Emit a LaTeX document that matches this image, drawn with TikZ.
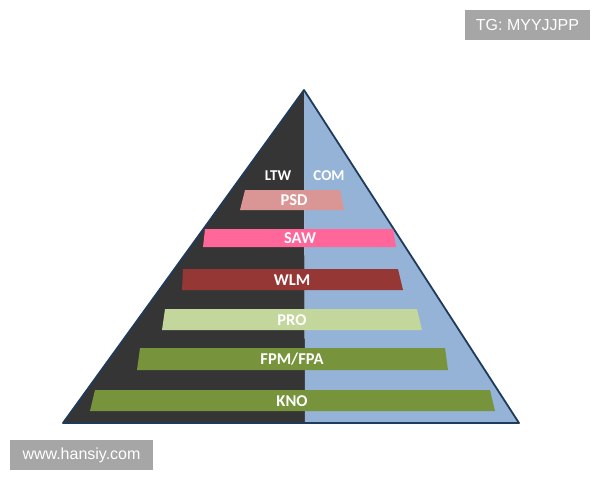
\documentclass[tikz,border=0pt]{standalone}
\usepackage{fontspec}
\setmainfont{Liberation Sans}
\newfontfamily\barfont{Carlito}
\definecolor{darkside}{HTML}{353535}
\definecolor{lightside}{HTML}{95B3D7}
\definecolor{edgecol}{HTML}{1F3A5A}
\definecolor{psdcol}{HTML}{DA9694}
\definecolor{sawcol}{HTML}{FF6699}
\definecolor{wlmcol}{HTML}{953735}
\definecolor{procol}{HTML}{C3D69B}
\definecolor{fpmcol}{HTML}{77933C}
\definecolor{wmgray}{HTML}{A6A6A6}
\tikzset{
  bartext/.style={text=white, font=\barfont\bfseries\fontsize{16.5}{17}\selectfont, inner sep=0pt},
  sidetext/.style={font=\barfont\bfseries\fontsize{15}{15}\selectfont, inner sep=0pt},
  wmbox/.style={fill=wmgray, text=white, font=\fontsize{16}{16}\selectfont, inner sep=0pt, anchor=center}
}
\begin{document}
\begin{tikzpicture}[x=1pt,y=-1pt]
\useasboundingbox (0,0) rectangle (600,480);
\fill[white] (0,0) rectangle (600,480);
% pyramid halves
\fill[darkside] (304,90) -- (63,423) -- (305,423) -- cycle;
\fill[lightside] (304,90) -- (305,423) -- (519,423) -- cycle;
\draw[edgecol, line width=1.8pt, line join=round] (304,90) -- (63,423) -- (519,423) -- cycle;
% bars
\fill[psdcol] (245,190) -- (340,190) -- (344,210) -- (240,210) -- cycle;
\fill[sawcol] (205,229) -- (393,229) -- (396,247) -- (203,247) -- cycle;
\fill[wlmcol] (183,269) -- (398,269) -- (403,290) -- (182,290) -- cycle;
\fill[procol] (165,309) -- (417,309) -- (422,330) -- (162,330) -- cycle;
\fill[fpmcol] (140,348) -- (445,348) -- (448,370) -- (137,370) -- cycle;
\fill[fpmcol] (95,390) -- (490,390) -- (495,411) -- (90,411) -- cycle;
% labels
\node[sidetext, text=white] (ltw) at (278,176) {LTW};
\node[sidetext, text=white] (com) at (329,176) {COM};
\node[bartext] (psd) at (294,200) {PSD};
\node[bartext] (saw) at (300,238) {SAW};
\node[bartext] (wlm) at (292,280) {WLM};
\node[bartext] (pro) at (292,320) {PRO};
\node[bartext] (fpm) at (292,359) {FPM/FPA};
\node[bartext] (kno) at (292,401) {KNO};
% watermarks
\node[wmbox, minimum width=125pt, minimum height=30pt] (tg) at (527.5,25) {TG: MYYJJPP};
\node[wmbox, minimum width=143pt, minimum height=30pt] (web) at (81.5,455) {www.hansiy.com};
\end{tikzpicture}
\end{document}
